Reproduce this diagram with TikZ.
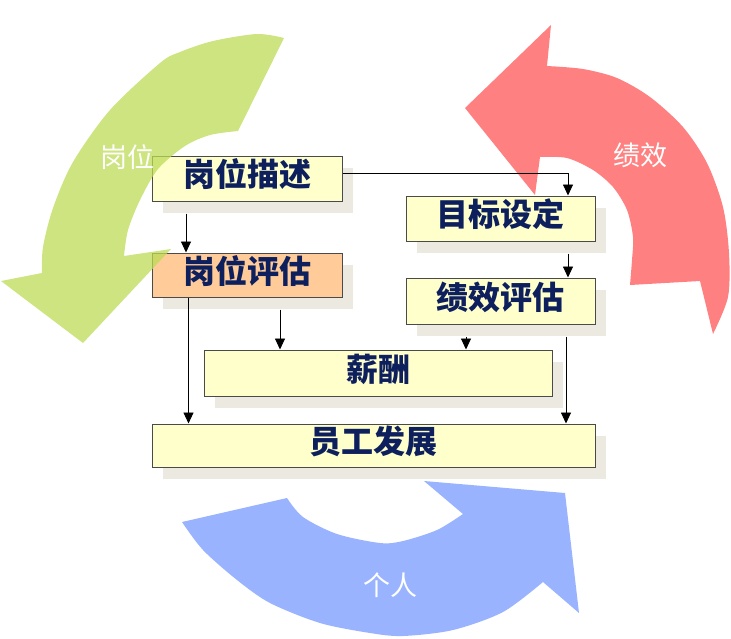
\documentclass[tikz,border=0pt]{standalone}
\usepackage{fontspec}
\newfontfamily\cjk{Noto Sans CJK SC}
\usetikzlibrary{arrows.meta,shadows}
\definecolor{hrInk}{HTML}{0D1F5C}
\definecolor{hrBoxFill}{HTML}{FFFFCC}
\definecolor{hrOrangeFill}{HTML}{FFCC99}
\definecolor{hrBorder}{HTML}{4A4A4A}
\definecolor{hrShadow}{HTML}{ECEAE0}
\definecolor{hrGreen}{RGB}{188,219,86}
\definecolor{hrRed}{RGB}{255,86,86}
\definecolor{hrBlue}{RGB}{119,154,255}
\tikzset{
  hrBox/.style={rectangle, draw=hrBorder, line width=1pt, fill=hrBoxFill, inner sep=0pt,
    font=\cjk\bfseries\fontsize{32}{32}\selectfont, text=hrInk,
    text height=27pt, text depth=11pt,
    drop shadow={shadow xshift=11pt, shadow yshift=-12pt, opacity=1, fill=hrShadow}},
  cycleArrow/.style={fill opacity=0.75},
  cycleLabel/.style={font=\cjk\fontsize{27}{27}\selectfont, text=white, inner sep=0pt},
  link/.style={-{Triangle[length=11pt, width=10pt]}, line width=0.9pt, color=black},
}
\begin{document}
\begin{tikzpicture}[x=1pt,y=-1pt]
  \useasboundingbox (0,0) rectangle (731,638);

  % process boxes
  \node[hrBox, minimum width=190pt, minimum height=45pt] (desc) at (247,178.5) {岗位描述};
  \node[hrBox, fill=hrOrangeFill, minimum width=190pt, minimum height=44pt] (eval) at (247,275) {岗位评估};
  \node[hrBox, minimum width=189pt, minimum height=45pt] (goal) at (500.5,218.5) {目标设定};
  \node[hrBox, minimum width=189pt, minimum height=46pt] (perf) at (500.5,301) {绩效评估};
  \node[hrBox, minimum width=348pt, minimum height=46pt] (salary) at (378,373) {薪酬};
  \node[hrBox, minimum width=443pt, minimum height=43pt] (develop) at (373.5,445.5) {员工发展};

  % cycle arrows
  \fill[hrGreen, cycleArrow] (284,38)
    -- plot[smooth] coordinates {(284,38) (257,34) (213,41) (180,52) (160,63) (110,110) (73,162) (53,208) (43,247) (42,273)}
    -- (1,281) -- (83,343) -- (171,249) -- (124,256)
    -- plot[smooth] coordinates {(124,256) (128,230) (140,200) (158,169) (185,146) (210,135) (238,131)}
    -- cycle;
  \fill[hrRed, cycleArrow] (465,108) -- (551,25) -- (547,66)
    -- plot[smooth] coordinates {(547,66) (583,69) (617,78) (650,97) (683,127) (707,163) (723,207) (729,253) (728,297) (713,334)}
    -- (700,281) -- (630,285)
    -- plot[smooth] coordinates {(630,285) (632,260) (633,237) (627,210) (613,187) (593,170) (567,158) (540,157)}
    -- (535,195) -- cycle;
  \fill[hrBlue, cycleArrow] (182,522) -- (287,498)
    -- plot[smooth] coordinates {(287,498) (303,517) (337,534) (380,543) (403,541) (437,530) (463,514)}
    -- (424,481) -- (565,493) -- (579,613) -- (543,582)
    -- plot[smooth] coordinates {(543,582) (503,612) (453,630) (403,636) (370,633) (320,623) (270,603) (237,580) (203,550) (182,522)}
    -- cycle;

  \node[cycleLabel] (jobLabel) at (127,157) {岗位};
  \node[cycleLabel] (perfLabel) at (640,155) {绩效};
  \node[cycleLabel] (selfLabel) at (390,585) {个人};

  % connectors
  \draw[link] ([yshift=5pt]desc.east) -| ([xshift=67.5pt]goal.north);
  \draw[link] ([xshift=-61pt, yshift=-12pt]desc.south) -- ([xshift=-61pt]eval.north);
  \draw[link] ([xshift=67.5pt, yshift=-12pt]goal.south) -- ([xshift=67.5pt]perf.north);
  \draw[link] ([xshift=-58.5pt]eval.south) -- ([xshift=-58.5pt]eval.south |- develop.north);
  \draw[link] ([xshift=33pt, yshift=-12pt]eval.south) -- ([xshift=33pt]eval.south |- salary.north);
  \draw[link] ([xshift=-34.5pt, yshift=-12pt]perf.south) -- ([xshift=-34.5pt]perf.south |- salary.north);
  \draw[link] ([xshift=65.5pt, yshift=-12pt]perf.south) -- ([xshift=65.5pt]perf.south |- develop.north);
\end{tikzpicture}
\end{document}
